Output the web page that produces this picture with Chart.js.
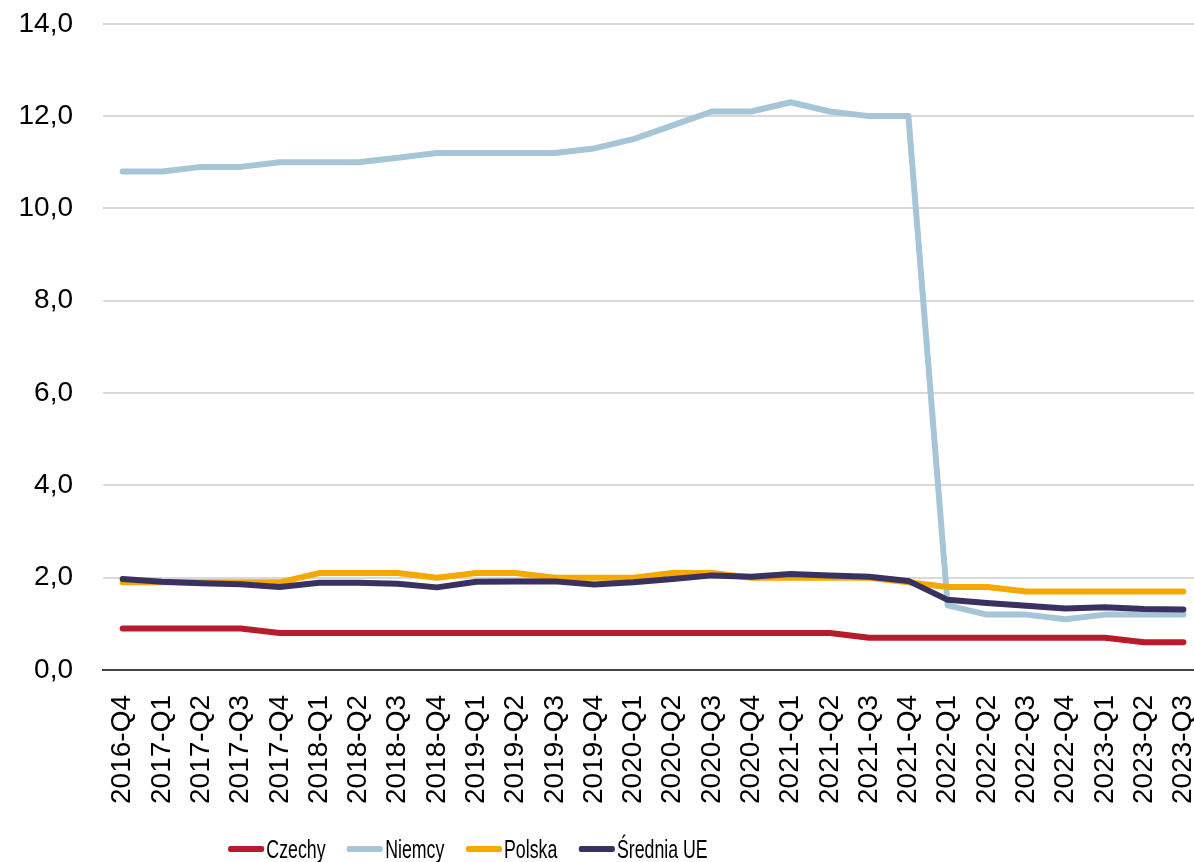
<!DOCTYPE html>
<html>
<head>
<meta charset="utf-8">
<script src="https://cdn.jsdelivr.net/npm/chart.js@4/dist/chart.umd.min.js"></script>
<style>
    html, body { margin: 0; padding: 0; background: #fff; overflow: hidden; width: 1194px; height: 862px; }
    #wrap { width: 1242px; height: 862px; position: absolute; left: 0; top: 0; }
    /* legend text in the reference is horizontally squeezed, so the whole legend is scaled */
    #legend {
        position: absolute; left: 228px; top: 832px; height: 34px;
        display: flex; align-items: center;
        transform: scaleX(0.71); transform-origin: left center;
        font-family: 'Liberation Sans', Arial, sans-serif; font-size: 25px; color: #000;
        white-space: nowrap;
    }
    .item { display: flex; align-items: center; margin-right: 30px; }
    .swatch { display: inline-block; width: 51px; height: 6px; border-radius: 3px; margin-right: 3px; }
</style>
</head>
<body>
<div id="wrap"><canvas id="chart"></canvas></div>
<div id="legend"></div>
<script>
const quarters = [
    '2016-Q4', '2017-Q1', '2017-Q2', '2017-Q3', '2017-Q4', '2018-Q1', '2018-Q2',
    '2018-Q3', '2018-Q4', '2019-Q1', '2019-Q2', '2019-Q3', '2019-Q4', '2020-Q1',
    '2020-Q2', '2020-Q3', '2020-Q4', '2021-Q1', '2021-Q2', '2021-Q3', '2021-Q4',
    '2022-Q1', '2022-Q2', '2022-Q3', '2022-Q4', '2023-Q1', '2023-Q2', '2023-Q3'
];

const czechy = [0.9, 0.9, 0.9, 0.9, 0.8, 0.8, 0.8, 0.8, 0.8, 0.8, 0.8, 0.8, 0.8, 0.8,
    0.8, 0.8, 0.8, 0.8, 0.8, 0.7, 0.7, 0.7, 0.7, 0.7, 0.7, 0.7, 0.6, 0.6];

const niemcy = [10.8, 10.8, 10.9, 10.9, 11.0, 11.0, 11.0, 11.1, 11.2, 11.2, 11.2, 11.2, 11.3, 11.5,
    11.8, 12.1, 12.1, 12.3, 12.1, 12.0, 12.0, 1.4, 1.2, 1.2, 1.1, 1.2, 1.2, 1.2];

const polska = [1.9, 1.9, 1.9, 1.9, 1.9, 2.1, 2.1, 2.1, 2.0, 2.1, 2.1, 2.0, 2.0, 2.0,
    2.1, 2.1, 2.0, 2.0, 2.0, 2.0, 1.9, 1.8, 1.8, 1.7, 1.7, 1.7, 1.7, 1.7];

const sredniaUE = [1.97, 1.91, 1.88, 1.86, 1.80, 1.89, 1.89, 1.87, 1.79, 1.91, 1.92, 1.92, 1.85, 1.90,
    1.97, 2.05, 2.02, 2.08, 2.05, 2.02, 1.93, 1.52, 1.45, 1.39, 1.33, 1.36, 1.32, 1.31];

const yTicks = [0, 2, 4, 6, 8, 10, 12, 14];

const seriesNames = ['Czechy', 'Niemcy', 'Polska', 'Średnia UE'];
const seriesColors = ['#B81C2C', '#A6C6D8', '#F5A800', '#3A3160'];
const seriesData = [czechy, niemcy, polska, sredniaUE];

// Excel draws later series on top; in Chart.js a lower `order` is drawn on top
const datasets = seriesNames.map((name, i) => ({
    label: name,
    data: seriesData[i],
    borderColor: seriesColors[i],
    backgroundColor: seriesColors[i],
    borderWidth: 6,
    pointRadius: 0,
    tension: 0,
    borderCapStyle: 'round',
    borderJoinStyle: 'round',
    fill: false,
    order: seriesNames.length - i
}));

const legend = document.getElementById('legend');
seriesNames.forEach((name, i) => {
    const item = document.createElement('div');
    item.className = 'item';
    const sw = document.createElement('span');
    sw.className = 'swatch';
    sw.style.background = seriesColors[i];
    const txt = document.createElement('span');
    txt.textContent = name;
    item.appendChild(sw);
    item.appendChild(txt);
    legend.appendChild(item);
});

new Chart(document.getElementById('chart'), {
    type: 'line',
    data: { labels: quarters, datasets: datasets },
    options: {
        responsive: true,
        maintainAspectRatio: false,
        animation: false,
        layout: { padding: 0 },
        plugins: {
            tooltip: { enabled: false },
            legend: { display: false }
        },
        scales: {
            x: {
                offset: true,
                grid: { display: false, drawTicks: false },
                border: { color: '#404040', width: 2 },
                ticks: {
                    color: '#000',
                    minRotation: 90,
                    maxRotation: 90,
                    autoSkip: false,
                    padding: 25,
                    font: { family: "'Liberation Sans', Arial, sans-serif", size: 28 }
                },
                afterFit: s => { s.height = 192; }
            },
            y: {
                min: 0,
                max: 14,
                afterBuildTicks: s => { s.ticks = yTicks.map(v => ({ value: v })); },
                // invisible tick marks give the gap between labels and plot
                grid: { color: '#D9D9D9', lineWidth: 2, drawTicks: true, tickLength: 23, tickColor: 'rgba(0,0,0,0)' },
                border: { display: false },
                ticks: {
                    color: '#000',
                    padding: 7,
                    font: { family: "'Liberation Sans', Arial, sans-serif", size: 28 },
                    callback: v => v.toFixed(1).replace('.', ',')
                },
                afterFit: s => { s.width = 103; }
            }
        }
    }
});
</script>
</body>
</html>
